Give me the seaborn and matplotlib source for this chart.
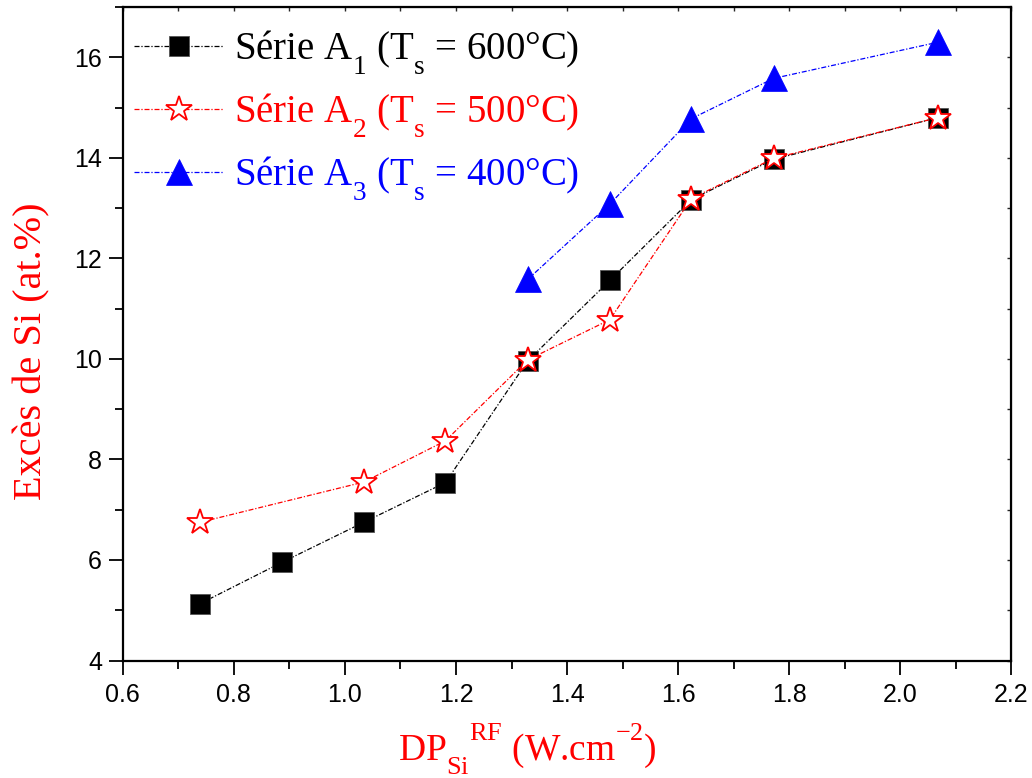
import pandas as pd
import matplotlib
matplotlib.use('Agg')
import matplotlib.pyplot as plt
from matplotlib.ticker import MultipleLocator, FormatStrFormatter
import seaborn as sns

# Données
dp_a1 = [0.739, 0.886, 1.034, 1.181, 1.329, 1.477, 1.624, 1.772, 2.068]
si_a1 = [5.13, 5.95, 6.75, 7.54, 9.96, 11.56, 13.17, 13.97, 14.80]

dp_a2 = [0.739, 1.034, 1.181, 1.329, 1.477, 1.624, 1.772, 2.068]
si_a2 = [6.75, 7.55, 8.37, 9.98, 10.78, 13.19, 13.99, 14.80]

dp_a3 = [1.329, 1.477, 1.624, 1.772, 2.068]
si_a3 = [11.58, 13.08, 14.78, 15.58, 16.30]

labels = ['Série A$_{1}$ (T$_{\\mathrm{s}}$ = 600°C)',
          'Série A$_{2}$ (T$_{\\mathrm{s}}$ = 500°C)',
          'Série A$_{3}$ (T$_{\\mathrm{s}}$ = 400°C)']
couleurs = ['black', 'red', 'blue']

sns.set_style('ticks')
plt.rcParams['font.family'] = ['Liberation Serif', 'DejaVu Serif']
plt.rcParams['mathtext.fontset'] = 'custom'
plt.rcParams['mathtext.rm'] = 'Liberation Serif'
plt.rcParams['mathtext.it'] = 'Liberation Serif:italic'

# indices plus bas / exposants plus hauts, comme sur l'original
try:
    from matplotlib import _mathtext
    _mathtext.FontConstantsBase.sub1 = 0.8
    _mathtext.FontConstantsBase.sup1 = 1.1
except Exception:
    pass

fig = plt.figure(figsize=(10.32, 7.78), dpi=100)
ax = fig.add_axes([0.119, 0.151, 0.861, 0.840])

ls = (0, (4, 1.5, 1, 1.5))
sns.lineplot(x=dp_a1, y=si_a1, ax=ax, color='black', linestyle=ls, linewidth=0.9,
             marker='s', markersize=14, markerfacecolor='black',
             markeredgecolor='#555555', markeredgewidth=0.6,
             sort=False, estimator=None, label=labels[0])
sns.lineplot(x=dp_a2, y=si_a2, ax=ax, color='red', linestyle=ls, linewidth=0.9,
             marker='*', markersize=19, markerfacecolor='white',
             markeredgecolor='red', markeredgewidth=1.3,
             sort=False, estimator=None, label=labels[1])
sns.lineplot(x=dp_a3, y=si_a3, ax=ax, color='blue', linestyle=ls, linewidth=0.9,
             marker='^', markersize=19, markerfacecolor='blue',
             markeredgecolor='blue', markeredgewidth=0.5,
             sort=False, estimator=None, label=labels[2])

ax.set_xlim(0.6, 2.2)
ax.set_ylim(4, 17)
ax.xaxis.set_major_locator(MultipleLocator(0.2))
ax.xaxis.set_minor_locator(MultipleLocator(0.1))
ax.yaxis.set_major_locator(MultipleLocator(2))
ax.yaxis.set_minor_locator(MultipleLocator(1))
ax.xaxis.set_major_formatter(FormatStrFormatter('%.1f'))
ax.yaxis.set_major_formatter(FormatStrFormatter('%d'))

for sp in ax.spines.values():
    sp.set_visible(True)
    sp.set_linewidth(1.6)
    sp.set_color('black')

ax.tick_params(which='major', direction='out', length=10, width=1.3, colors='black',
               labelsize=18)
ax.tick_params(which='minor', direction='out', length=5.5, width=1.3, colors='black')
ax.tick_params(axis='x', pad=6)
ax.tick_params(axis='y', pad=5)
for lab in ax.get_xticklabels() + ax.get_yticklabels():
    lab.set_family(['Liberation Sans', 'DejaVu Sans'])

# petites graduations en haut et à droite
haut = ax.secondary_xaxis('top')
haut.xaxis.set_major_locator(MultipleLocator(0.1))
haut.tick_params(direction='in', length=3, width=1.0, labeltop=False)
droite = ax.secondary_yaxis('right')
droite.yaxis.set_major_locator(MultipleLocator(1))
droite.tick_params(direction='in', length=3, width=1.0, labelright=False)

ax.set_xlabel('DP$_{\\mathrm{Si}}$$^{\\mathrm{RF}}$ (W.cm$^{-2}$)', color='red',
              fontsize=27)
ax.set_ylabel('Excès de Si (at.%)', color='red', fontsize=29)
ax.xaxis.set_label_coords(0.455, -0.093)
ax.yaxis.set_label_coords(-0.082, 0.473)

leg = ax.legend(loc='upper left', bbox_to_anchor=(0.0, 0.985), frameon=False,
                fontsize=28, handlelength=2.3, handletextpad=0.25,
                labelspacing=0.38, borderaxespad=0.0, borderpad=0.3)
for txt, c in zip(leg.get_texts(), couleurs):
    txt.set_color(c)

fig.savefig('out.png', dpi=100)
